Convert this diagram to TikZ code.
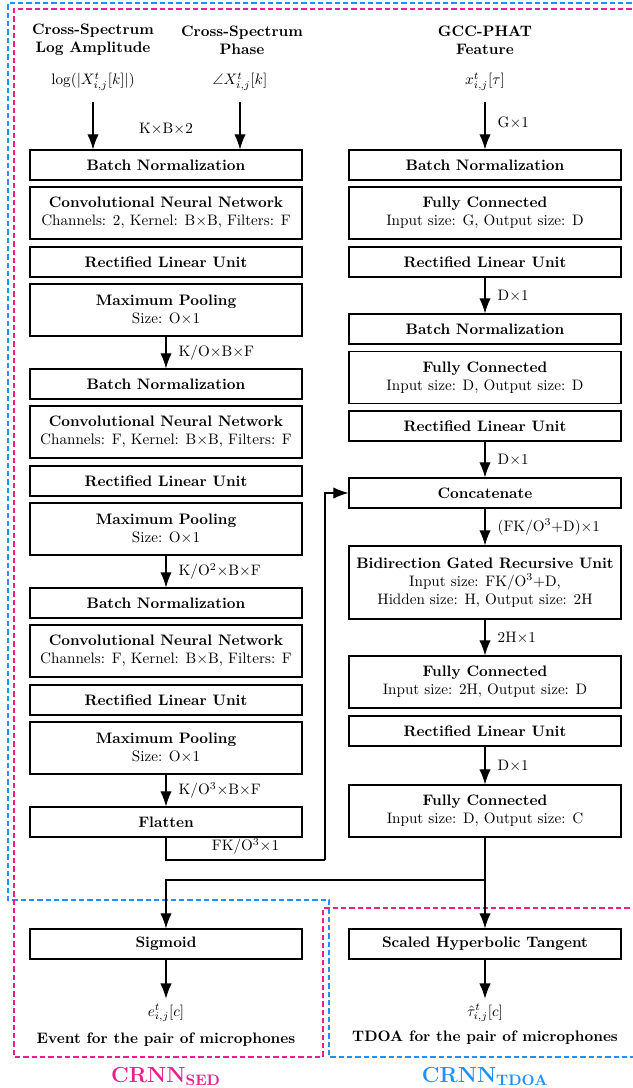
\documentclass[tikz,border=0pt]{standalone}
\usepackage{amsmath,amssymb}
\usepackage[dvipsnames]{xcolor}
\usetikzlibrary{arrows.meta}
\definecolor{sedpink}{RGB}{236,30,140}
\definecolor{tdoablue}{RGB}{30,144,255}
\newcommand*\layerwd{179.5pt}
\newcommand*\layerht{19.8pt}
\newcommand*\linewd {0.75pt}
\tikzset{
    layer/.style      = {draw, line width=\linewd, minimum width=\layerwd,
                        minimum height=\layerht, inner sep=1pt, align=center},
    layertwo/.style   = {layer, minimum height=34.3pt},
    layerthree/.style = {layer, minimum height=48.2pt},
    flow/.style       = {line width=\linewd, -{Latex[length=10pt,width=7.5pt]}},
    dimlabel/.style   = {right, inner sep=0pt, xshift=8pt},
    feature/.style    = {align=center, font=\bfseries},
    signal/.style     = {anchor=base},
    sedbound/.style   = {draw=sedpink, dash pattern=on 3.5pt off 2pt, line width=0.7pt},
    tdoabound/.style  = {draw=tdoablue, dash pattern=on 3.5pt off 2pt, line width=0.7pt},
  }

\begin{document}
\begin{tikzpicture}[x=0.66pt, y=-0.66pt]
    \useasboundingbox (0,0) rectangle (633,1088);

    % Dashed outlines of the two networks
    \draw[tdoabound] (640,3) -- (8,3) -- (8,900) -- (329,900) -- (329,1057) -- (640,1057);
    \draw[sedbound]  (640,9) -- (14,9) -- (14,1057) -- (323,1057) -- (323,908) -- (640,908);

    % Input features
    \node[feature] (amptitle)   at (93,40)  {Cross-Spectrum\\Log Amplitude};
    \node[feature] (phasetitle) at (242,40) {Cross-Spectrum\\Phase};
    \node[feature] (gcctitle)   at (485,40) {GCC-PHAT\\Feature};
    \node[signal] (logamp) at (93,85)  {$\log(|X^t_{i,j}[k]|)$};
    \node[signal] (phase)  at (240,85) {$\angle X^t_{i,j}[k]$};
    \node[signal] (gcc)    at (485,85) {$x^t_{i,j}[\tau]$};

    % Convolutional blocks of the left branch
    \foreach \i/\ch/\y in {1/2/165, 2/F/384, 3/F/603} {
        \node[layer]    (bn\i)   at (166,\y)     {\textbf{Batch Normalization}};
        \node[layertwo] (cnn\i)  at (166,\y+48)  {\textbf{Convolutional Neural Network}\\
                                                  Channels: \ch, Kernel: B$\times$B, Filters: F};
        \node[layer]    (relu\i) at (166,\y+97)  {\textbf{Rectified Linear Unit}};
        \node[layertwo] (mp\i)   at (166,\y+145) {\textbf{Maximum Pooling}\\Size: O$\times$1};
    }
    \node[layer] (flat) at (166,822) {\textbf{Flatten}};
    \node[layer] (sig)  at (166,944) {\textbf{Sigmoid}};

    % Right branch
    \node[layer]      (gbn1)   at (485,165)   {\textbf{Batch Normalization}};
    \node[layertwo]   (gfc1)   at (485,213)   {\textbf{Fully Connected}\\Input size: G, Output size: D};
    \node[layer]      (grelu1) at (485,262)   {\textbf{Rectified Linear Unit}};
    \node[layer]      (gbn2)   at (485,329)   {\textbf{Batch Normalization}};
    \node[layertwo]   (gfc2)   at (485,377.5) {\textbf{Fully Connected}\\Input size: D, Output size: D};
    \node[layer]      (grelu2) at (485,426)   {\textbf{Rectified Linear Unit}};
    \node[layer]      (cat)    at (485,493)   {\textbf{Concatenate}};
    \node[layerthree] (gru)    at (485,582.5) {\textbf{Bidirection Gated Recursive Unit}\\
                                               Input size: FK/O\textsuperscript{3}+D,\\
                                               Hidden size: H, Output size: 2H};
    \node[layertwo]   (fc3)    at (485,682)   {\textbf{Fully Connected}\\Input size: 2H, Output size: D};
    \node[layer]      (relu4)  at (485,731)   {\textbf{Rectified Linear Unit}};
    \node[layertwo]   (fc4)    at (485,811)   {\textbf{Fully Connected}\\Input size: D, Output size: C};
    \node[layer]      (tanh)   at (485,944)   {\textbf{Scaled Hyperbolic Tangent}};

    % Outputs
    \node (ev)  at (166,1013) {$e^t_{i,j}[c]$};
    \node (tau) at (485,1013) {$\hat{\tau}^t_{i,j}[c]$};
    \node[feature] (evtext)  at (166,1040) {Event for the pair of microphones};
    \node[feature] (tautext) at (485,1038) {TDOA for the pair of microphones};
    \node[signal, text=sedpink,  font=\Large\bfseries] (sedname)  at (166,1082) {CRNN\textsubscript{SED}};
    \node[signal, text=tdoablue, font=\Large\bfseries] (tdoaname) at (485,1082) {CRNN\textsubscript{TDOA}};

    % Arrows into the first layers
    \draw[flow, shorten <=4pt] (logamp.south) -- (logamp.south |- bn1.north);
    \draw[flow, shorten <=4pt] (phase.south)  -- (phase.south |- bn1.north);
    \node (kb2) at (166,129) {K$\times$B$\times$2};
    \draw[flow, shorten <=4pt] (gcc.south) -- node[dimlabel] {G$\times$1} (gbn1.north);

    % Left branch connectors
    \draw[flow] (mp1.south) -- node[dimlabel] {K/O$\times$B$\times$F} (bn2.north);
    \draw[flow] (mp2.south) -- node[dimlabel] {K/O\textsuperscript{2}$\times$B$\times$F} (bn3.north);
    \draw[flow] (mp3.south) -- node[dimlabel] {K/O\textsuperscript{3}$\times$B$\times$F} (flat.north);
    \coordinate (fk) at (325,860);
    \draw[line width=\linewd] (flat.south) |- node[above, pos=0.75] {FK/O\textsuperscript{3}$\times$1} (fk);
    \draw[flow] (fk) |- (cat.west);

    % Right branch connectors
    \draw[flow] (grelu1.south) -- node[dimlabel] {D$\times$1} (gbn2.north);
    \draw[flow] (grelu2.south) -- node[dimlabel] {D$\times$1} (cat.north);
    \draw[flow] (cat.south)    -- node[dimlabel] {(FK/O\textsuperscript{3}+D)$\times$1} (gru.north);
    \draw[flow] (gru.south)    -- node[dimlabel] {2H$\times$1} (fc3.north);
    \draw[flow] (relu4.south)  -- node[dimlabel] {D$\times$1} (fc4.north);

    % Split into the two heads
    \coordinate (split) at (485,880);
    \draw[flow] (fc4.south) -- (tanh.north);
    \draw[flow] (split) -| (sig.north);
    \draw[flow] (sig.south)  -- (ev.north);
    \draw[flow] (tanh.south) -- (tau.north);
\end{tikzpicture}
\end{document}
